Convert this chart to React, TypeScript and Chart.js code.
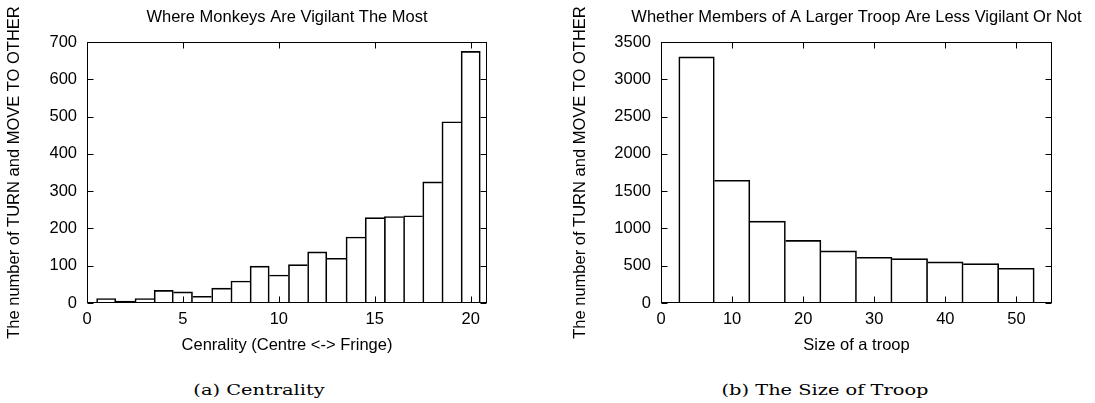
import React, { useEffect, useRef } from 'react';
import { Chart, registerables } from 'chart.js';

Chart.register(...registerables);

// ---- Data: (a) Centrality ----
const centralityBins = [1, 2, 3, 4, 5, 6, 7, 8, 9, 10, 11, 12, 13, 14, 15, 16, 17, 18, 19, 20];
const centralityCounts = [12, 5, 12, 34, 30, 18, 40, 59, 99, 75, 103, 137, 120, 177, 229, 232, 234, 325, 486, 675];
const centralityXTicks = [0, 5, 10, 15, 20];
const centralityYTicks = [0, 100, 200, 300, 400, 500, 600, 700];

// ---- Data: (b) The Size of Troop ----
const troopBins = [5, 10, 15, 20, 25, 30, 35, 40, 45, 50];
const troopCounts = [3300, 1646, 1099, 839, 700, 614, 596, 552, 529, 466];
const troopXTicks = [0, 10, 20, 30, 40, 50];
const troopYTicks = [0, 500, 1000, 1500, 2000, 2500, 3000, 3500];

const SANS = '"Liberation Sans", Arial, Helvetica, sans-serif';
const SERIF = '"DejaVu Serif", "Liberation Serif", serif';
const FONT_SIZE = 16.5;

const gnuFrame = {
  id: 'gnuFrame',
  afterDraw(chart: any, _args: any, opts: any) {
    const { ctx, chartArea: a, scales } = chart;
    const x = scales.x;
    const y = scales.y;
    const L = Math.round(a.left) + 0.5;
    const R = Math.round(a.right) - 0.5;
    const T = Math.round(a.top) + 0.5;
    const B = Math.round(a.bottom) - 0.5;
    const tl = 6;
    ctx.save();
    ctx.strokeStyle = '#000';
    ctx.lineWidth = 1;
    ctx.beginPath();
    x.ticks.forEach((t: any) => {
      const px = Math.round(x.getPixelForValue(t.value)) + 0.5;
      ctx.moveTo(px, B);
      ctx.lineTo(px, B - tl);
      ctx.moveTo(px, T);
      ctx.lineTo(px, T + tl);
    });
    y.ticks.forEach((t: any) => {
      const py = Math.round(y.getPixelForValue(t.value)) + 0.5;
      ctx.moveTo(L, py);
      ctx.lineTo(L + tl, py);
      ctx.moveTo(R, py);
      ctx.lineTo(R - tl, py);
    });
    ctx.stroke();
    ctx.strokeRect(L, T, R - L, B - T);
    if (opts && opts.title) {
      ctx.fillStyle = '#000';
      ctx.font = `${FONT_SIZE}px ${SANS}`;
      ctx.textAlign = 'center';
      ctx.textBaseline = 'middle';
      ctx.fillText(opts.title, (a.left + a.right) / 2, a.top - 24.5);
    }
    ctx.restore();
  },
};

type PanelProps = {
  left: number;
  width: number;
  height: number;
  yAxisWidth: number;
  padRight: number;
  title: string;
  xTitle: string;
  yTitle: string;
  bins: number[];
  counts: number[];
  xMax: number;
  yMax: number;
  xTicks: number[];
  yTicks: number[];
};

function edgeWidths(i: number, counts: number[]) {
  const n = counts.length;
  const left = i === 0 || counts[i] >= counts[i - 1] ? 1 : 0;
  const right = i === n - 1 || counts[i] > counts[i + 1] ? 1 : 0;
  return { left, right, top: 1, bottom: 0 };
}

function Panel(p: PanelProps) {
  const ref = useRef<HTMLCanvasElement | null>(null);
  useEffect(() => {
    if (!ref.current) return;
    const font = { family: SANS, size: FONT_SIZE };
    const chart = new Chart(ref.current, {
      type: 'bar',
      data: {
        datasets: [
          {
            data: p.bins.map((b, i) => ({ x: b, y: p.counts[i] })),
            backgroundColor: 'rgba(0,0,0,0)',
            borderColor: '#000',
            borderWidth: (c: any) => edgeWidths(c.dataIndex, p.counts),
            borderSkipped: false,
            categoryPercentage: 1,
            barPercentage: 1,
          } as any,
        ],
      },
      options: {
        animation: false,
        responsive: false,
        maintainAspectRatio: false,
        events: [],
        layout: { padding: { left: 0, top: 42, right: p.padRight, bottom: 0 } },
        plugins: {
          legend: { display: false },
          tooltip: { enabled: false },
          title: { display: false },
          gnuFrame: { title: p.title },
        } as any,
        scales: {
          x: {
            type: 'linear',
            min: 0,
            max: p.xMax,
            offset: false,
            grid: { display: false, offset: false, drawTicks: false },
            border: { display: false },
            afterBuildTicks: (s: any) => {
              s.ticks = p.xTicks.map((v) => ({ value: v }));
            },
            afterFit: (s: any) => {
              s.height = 57;
            },
            ticks: {
              padding: 7,
              maxRotation: 0,
              autoSkip: false,
              color: '#000',
              font,
              callback: (v: any) => String(v),
            },
            title: { display: true, text: p.xTitle, color: '#000', font, padding: { top: 0, bottom: 5 } },
          },
          y: {
            type: 'linear',
            min: 0,
            max: p.yMax,
            grid: { display: false, drawTicks: false },
            border: { display: false },
            afterBuildTicks: (s: any) => {
              s.ticks = p.yTicks.map((v) => ({ value: v }));
            },
            afterFit: (s: any) => {
              s.width = p.yAxisWidth;
            },
            ticks: { padding: 10, autoSkip: false, color: '#000', font, callback: (v: any) => String(v) },
            title: { display: true, text: p.yTitle, color: '#000', font, padding: { top: 5, bottom: 0 } },
          },
        } as any,
      },
      plugins: [gnuFrame as any],
    } as any);
    return () => chart.destroy();
  }, []);
  return (
    <canvas
      ref={ref}
      width={p.width}
      height={p.height}
      style={{ position: 'absolute', left: p.left, top: 0, width: p.width, height: p.height }}
    />
  );
}

function Caption({ text, center }: { text: string; center: number }) {
  return (
    <div
      style={{
        position: 'absolute',
        left: center - 150,
        top: 380,
        width: 300,
        textAlign: 'center',
        fontFamily: SERIF,
        fontSize: 15.5,
        lineHeight: '20px',
        color: '#000',
        transform: 'scaleX(1.25)',
        transformOrigin: 'center',
        whiteSpace: 'nowrap',
      }}
    >
      {text}
    </div>
  );
}

export default function App() {
  const yTitle = 'The number of TURN and MOVE TO OTHER';
  return (
    <div
      style={{
        position: 'fixed',
        left: 0,
        top: 0,
        width: 1095,
        height: 403,
        background: '#fff',
        overflow: 'hidden',
      }}
    >
      <Panel
        left={0}
        width={560}
        height={360}
        yAxisWidth={87}
        padRight={73}
        title="Where Monkeys Are Vigilant The Most"
        xTitle="Cenrality (Centre <-> Fringe)"
        yTitle={yTitle}
        bins={centralityBins}
        counts={centralityCounts}
        xMax={20.85}
        yMax={700}
        xTicks={centralityXTicks}
        yTicks={centralityYTicks}
      />
      <Panel
        left={566}
        width={529}
        height={360}
        yAxisWidth={95}
        padRight={43}
        title="Whether Members of A Larger Troop Are Less Vigilant Or Not"
        xTitle="Size of a troop"
        yTitle={yTitle}
        bins={troopBins}
        counts={troopCounts}
        xMax={55}
        yMax={3500}
        xTicks={troopXTicks}
        yTicks={troopYTicks}
      />
      <Caption text="(a) Centrality" center={258.5} />
      <Caption text="(b) The Size of Troop" center={825} />
    </div>
  );
}
